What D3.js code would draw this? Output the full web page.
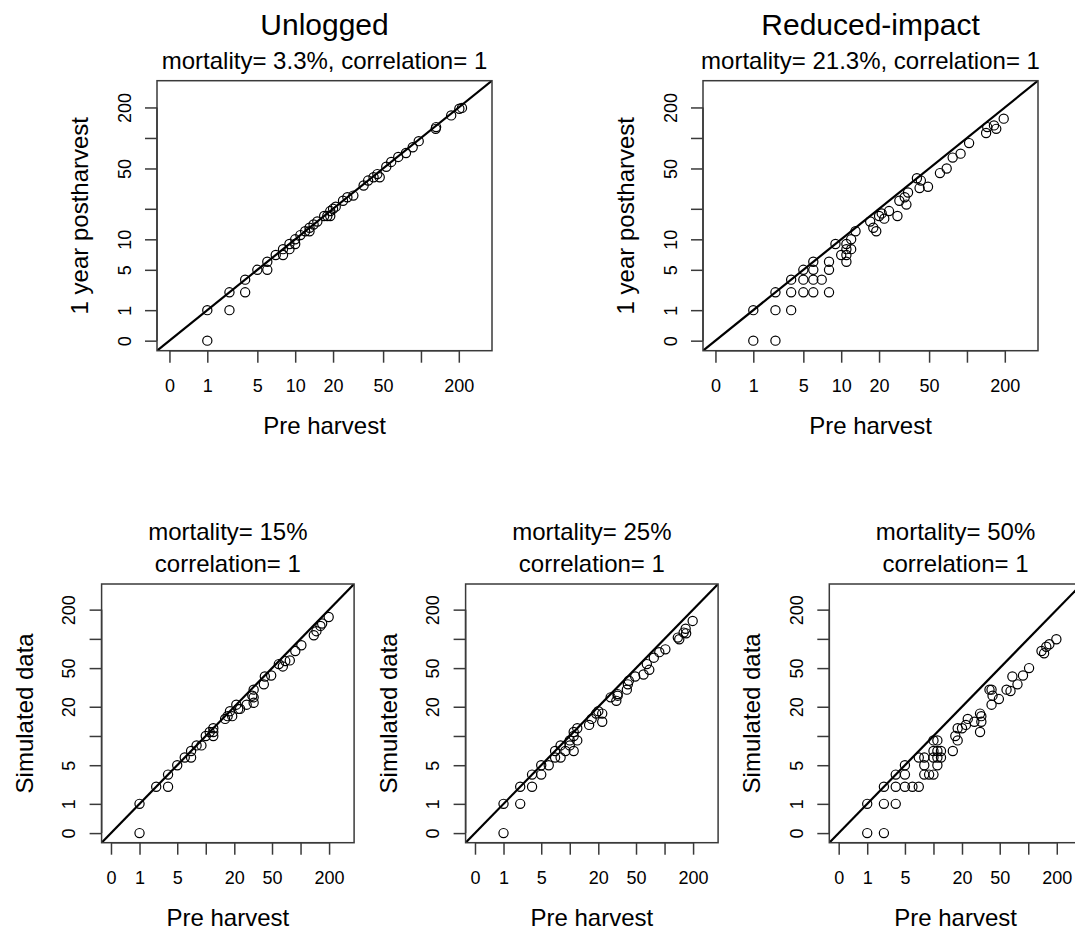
<!DOCTYPE html>
<html><head><meta charset="utf-8">
<script src="https://cdn.jsdelivr.net/npm/d3@7"></script>
<style>
body{margin:0;background:#fff}
svg{display:block}
text{font-family:"Liberation Sans",Arial,Helvetica,sans-serif;fill:#000}
</style>
</head><body><svg id="c" width="1075" height="930"></svg>
<script>
// axis tick positions on the log(count + 1) axis, and their printed labels
const tickAt = [1, 2, 5, 10, 20, 50, 100, 200];
const topXLabels = ["0", "1", "5", "10", "20", "50", "", "200"];
const topYLabels = ["0", "1", "5", "10", "", "50", "", "200"];
const botXLabels = ["0", "1", "5", "", "20", "50", "", "200"];
const botYLabels = ["0", "1", "5", "", "20", "50", "", "200"];

// Unlogged (pre-harvest count, 1 year post-harvest count)
const unloggedPre  = [1,1,2,2,3,3,4,5,5,6,7,7,8,8,9,9,10,11,12,12,13,14,16,17,18,18,19,20,23,25,28,34,37,41,44,46,52,57,65,75,85,95,130,131,173,201,211];
const unloggedPost = [0,1,2,1,3,2,4,4,5,6,7,6,8,7,9,8,10,11,12,11,13,14,16,16,18,16,19,20,23,25,26,33,37,40,43,40,51,57,64,70,80,92,122,127,166,193,197];

// Reduced-impact
const reducedPre  = [1,2,1,2,3,2,3,4,5,7,3,4,5,6,4,5,7,5,7,8,9,10,10,10,10,11,11,12,16,17,18,19,20,21,23,27,28,31,32,33,39,42,41,48,60,68,76,88,103,141,144,163,170,195];
const reducedPost = [0,0,1,1,1,2,2,2,2,2,3,3,3,3,4,4,4,5,5,8,6,8,7,6,5,9,7,11,14,12,11,16,17,15,18,16,23,25,21,28,39,37,31,32,44,49,63,69,88,111,127,132,122,154];

// Simulated, mortality 15%
const sim15Pre  = [1,1,2,3,3,4,5,6,6,7,8,9,10,11,11,11,15,16,17,18,20,21,22,26,30,31,31,31,40,41,48,58,64,68,76,87,101,137,146,161,168,197];
const sim15Post = [0,1,2,2,3,4,5,5,6,7,7,9,10,10,9,11,14,15,17,15,20,18,18,20,25,29,21,24,33,40,41,54,51,58,59,74,85,108,119,135,143,167];

// Simulated, mortality 25%
const sim25Pre  = [1,1,2,2,3,3,4,4,5,6,6,7,7,8,9,9,10,10,10,11,11,15,16,18,19,21,21,26,30,31,31,39,40,41,48,59,64,68,76,87,101,137,142,158,166,168,197];
const sim25Post = [0,1,1,2,2,3,3,4,4,6,5,7,5,6,7,8,9,6,10,8,11,12,14,16,17,13,16,24,22,25,26,29,33,36,40,42,54,47,63,72,77,102,98,115,126,113,152];

// Simulated, mortality 50%
const sim50Pre  = [1,2,1,2,3,2,3,4,5,6,3,4,7,8,9,4,7,6,7,9,10,11,9,10,11,9,10,10,15,16,17,17,19,21,22,26,30,31,30,31,38,40,41,40,48,58,64,67,76,87,101,137,146,154,166,197];
const sim50Post = [0,0,1,1,1,2,2,2,2,2,3,3,3,3,3,4,4,5,5,5,4,5,6,6,6,8,8,5,6,9,8,11,11,12,14,13,16,15,10,13,29,29,25,20,23,29,28,40,33,41,49,74,70,82,87,98];

const panels = [
  {main: "Unlogged", sub: ["mortality= 3.3%, correlation= 1"], ylab: "1 year postharvest",
   pre: unloggedPre, post: unloggedPost, x0: 157, y0: 80.7, w: 335, h: 270, xl: topXLabels, yl: topYLabels},
  {main: "Reduced-impact", sub: ["mortality= 21.3%, correlation= 1"], ylab: "1 year postharvest",
   pre: reducedPre, post: reducedPost, x0: 703, y0: 80.7, w: 335, h: 270, xl: topXLabels, yl: topYLabels},
  {main: null, sub: ["mortality= 15%", "correlation= 1"], ylab: "Simulated data",
   pre: sim15Pre, post: sim15Post, x0: 101.6, y0: 584, w: 252.5, h: 258.7, xl: botXLabels, yl: botYLabels},
  {main: null, sub: ["mortality= 25%", "correlation= 1"], ylab: "Simulated data",
   pre: sim25Pre, post: sim25Post, x0: 465.6, y0: 584, w: 252.5, h: 258.7, xl: botXLabels, yl: botYLabels},
  {main: null, sub: ["mortality= 50%", "correlation= 1"], ylab: "Simulated data",
   pre: sim50Pre, post: sim50Post, x0: 829.3, y0: 584, w: 252.5, h: 258.7, xl: botXLabels, yl: botYLabels}
];

const dLo = Math.pow(10, -0.099), dHi = Math.pow(10, 2.565);
const svg = d3.select("#c");

panels.forEach((p, pi) => {
  const x = d3.scaleLog().domain([dLo, dHi]).range([p.x0, p.x0 + p.w]);
  const y = d3.scaleLog().domain([dLo, dHi]).range([p.y0 + p.h, p.y0]);
  const g = svg.append("g");
  const clipId = "clip" + pi;
  g.append("clipPath").attr("id", clipId).append("rect")
    .attr("x", p.x0).attr("y", p.y0).attr("width", p.w).attr("height", p.h);

  const plot = g.append("g").attr("clip-path", `url(#${clipId})`);
  plot.append("line")
    .attr("x1", x(dLo)).attr("y1", y(dLo)).attr("x2", x(dHi)).attr("y2", y(dHi))
    .attr("stroke", "#000").attr("stroke-width", 2.2);
  plot.selectAll("circle").data(p.pre.map((v, i) => [v, p.post[i]])).enter().append("circle")
    .attr("cx", d => x(d[0] + 1)).attr("cy", d => y(d[1] + 1)).attr("r", 4.6)
    .attr("fill", "none").attr("stroke", "#000").attr("stroke-width", 1.2);

  g.append("rect").attr("x", p.x0).attr("y", p.y0).attr("width", p.w).attr("height", p.h)
    .attr("fill", "none").attr("stroke", "#3a3a3a").attr("stroke-width", 1.5);

  // x axis
  const gx = g.append("g").attr("transform", `translate(0,${p.y0 + p.h})`)
    .call(d3.axisBottom(x).tickValues(tickAt).tickFormat((d, i) => p.xl[i]).tickSize(12).tickSizeOuter(0));
  gx.select(".domain").attr("stroke", "#3a3a3a").attr("stroke-width", 1.5)
    .attr("d", `M${x(tickAt[0])},0H${x(tickAt[tickAt.length - 1])}`);
  gx.selectAll(".tick line").attr("stroke", "#3a3a3a").attr("stroke-width", 1.5);
  gx.selectAll(".tick text").attr("y", 41).attr("dy", 0)
    .style("font-size", "18px").style("font-family", '"Liberation Sans",Arial,sans-serif').attr("fill", "#000");

  // y axis
  const gy = g.append("g").attr("transform", `translate(${p.x0},0)`)
    .call(d3.axisLeft(y).tickValues(tickAt).tickFormat((d, i) => p.yl[i]).tickSize(12).tickSizeOuter(0));
  gy.select(".domain").attr("stroke", "#3a3a3a").attr("stroke-width", 1.5)
    .attr("d", `M0,${y(tickAt[0])}V${y(tickAt[tickAt.length - 1])}`);
  gy.selectAll(".tick line").attr("stroke", "#3a3a3a").attr("stroke-width", 1.5);
  gy.selectAll(".tick text").attr("x", 0).attr("y", 0).attr("dy", 0)
    .attr("transform", "translate(-26.5,0) rotate(-90)").attr("text-anchor", "middle")
    .style("font-size", "18px").style("font-family", '"Liberation Sans",Arial,sans-serif').attr("fill", "#000");

  const cx = p.x0 + p.w / 2;
  const cy = p.y0 + p.h / 2;
  if (p.main) {
    g.append("text").attr("x", cx).attr("y", p.y0 - 45.7).attr("text-anchor", "middle")
      .style("font-size", "30px").text(p.main);
  }
  p.sub.forEach((s, i) => {
    const n = p.sub.length;
    g.append("text").attr("x", cx).attr("y", p.y0 - 12.2 - (n - 1 - i) * 31.5)
      .attr("text-anchor", "middle").style("font-size", "24px").text(s);
  });
  g.append("text").attr("x", cx).attr("y", p.y0 + p.h + 83.3).attr("text-anchor", "middle")
    .style("font-size", "24px").text("Pre harvest");
  g.append("text").attr("transform", `translate(${p.x0 - 69},${cy}) rotate(-90)`)
    .attr("text-anchor", "middle").style("font-size", "24px").text(p.ylab);
});
</script>
</body></html>
